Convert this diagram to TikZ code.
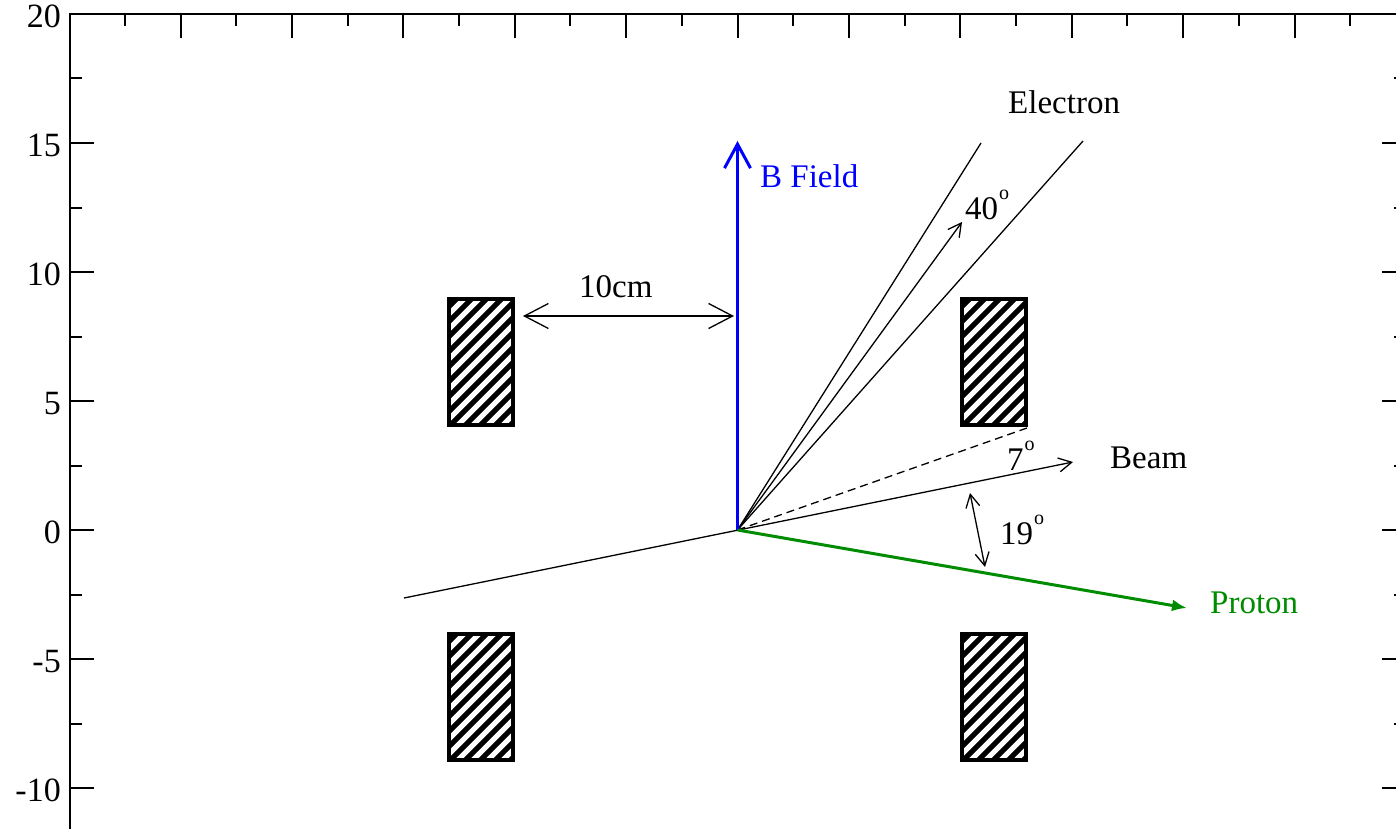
\documentclass[tikz,border=0pt]{standalone}
\usepackage{fontspec}
\setmainfont{Liberation Serif}
\usetikzlibrary{arrows.meta}
\definecolor{bblue}{RGB}{0,0,255}
\definecolor{pgreen}{RGB}{0,140,0}
\newcommand\degsup{\kern1pt\raisebox{20pt}{\fontsize{20}{20}\selectfont o}}
\begin{document}
\begin{tikzpicture}[x=1pt,y=-1pt,
  lbl/.style={font=\fontsize{33}{38}\selectfont, inner sep=0pt, anchor=base west},
  axlbl/.style={font=\fontsize{34}{38}\selectfont, inner sep=0pt, anchor=base east},
  axisframe/.style={line width=2pt, line cap=rect},
  thinray/.style={line width=1.3pt},
  smallhead/.style={-{Straight Barb[length=13pt,width=14pt]}},
  bothsmall/.style={{Straight Barb[length=13pt,width=14pt]}-{Straight Barb[length=13pt,width=14pt]}},
  bothbig/.style={{Straight Barb[length=24pt,width=25pt]}-{Straight Barb[length=24pt,width=25pt]}},
  magnet/.style={draw=black, fill=black, line width=4pt, minimum width=64pt,
    minimum height=126pt, inner sep=0pt,
    path picture={\foreach \k in {1,...,14}{\draw[white,line width=5pt]
      ([yshift=-\k*15pt]path picture bounding box.north west) -- ++(110,-110);}}}
]
\useasboundingbox (0,0) rectangle (1396,829);
% frame and ticks
\draw[axisframe] (70,845) -- (70,14) -- (1406,14) -- (1406,845);
\foreach \i in {1,...,23}{
  \pgfmathsetmacro\tl{ifthenelse(mod(\i,2)==0,24,12)}
  \draw[axisframe, line cap=butt] ({69.1+\i*55.7},14) -- ++(0,\tl);
}
\foreach \j in {1,...,13}{
  \pgfmathsetmacro\tl{ifthenelse(mod(\j,2)==0,24,12)}
  \draw[axisframe, line cap=butt] (70,{14+\j*64.5}) -- ++(\tl,0);
  \draw[axisframe, line cap=butt] (1406,{14+\j*64.5}) -- ++(-\tl,0);
}
\foreach \v/\yy [count=\n] in {20/14,15/143,10/272,5/401,0/530,-5/659,-10/788}
  \node[axlbl] (yl\n) at (61,\yy+13.5) {\v};
% magnets
\node[magnet] (m1) at (481,362) {};
\node[magnet] (m2) at (994,362) {};
\node[magnet] (m3) at (481,697) {};
\node[magnet] (m4) at (994,697) {};
% coordinates
\coordinate (O) at (737.5,530);
\coordinate (Bt) at (737.5,141);
\coordinate (e1) at (981,143);
\coordinate (e2) at (1083,141);
\coordinate (e40) at (962,222);
\coordinate (bs) at (404,598);
\coordinate (be) at (1073,462);
\coordinate (dsh) at (1027,428);
\coordinate (pend) at (1187,608);
\coordinate (a19t) at (970,493);
\coordinate (a19b) at (985,567);
\coordinate (cmL) at (523,316);
\coordinate (cmR) at (734,316);
% rays
\draw[thinray] (O) -- (e1);
\draw[thinray] (O) -- (e2);
\draw[thinray, smallhead] (O) -- (e40);
\draw[thinray, dash pattern=on 8pt off 5pt] (O) -- (dsh);
\draw[thinray, smallhead] (bs) -- (be);
\draw[thinray, bothsmall] (a19t) -- (a19b);
\draw[thinray, bothbig] (cmL) -- (cmR);
\draw[line width=3pt, bblue, -{Straight Barb[length=24pt,width=26pt]}] (O) -- (Bt);
\draw[line width=3pt, pgreen, -{Latex[length=15pt,width=12pt]}] (O) -- (pend);
% labels
\node[lbl, text=bblue] (lB) at (760,188) {B Field};
\node[lbl] (l10) at (579,297) {10cm};
\node[lbl] (lE) at (1008,114) {Electron};
\node[lbl] (l40) at (965,219) {40\degsup};
\node[lbl] (l7) at (1007,470) {7\degsup};
\node[lbl] (lBeam) at (1110,468) {Beam};
\node[lbl] (l19) at (1000,544) {19\degsup};
\node[lbl, text=pgreen] (lP) at (1210,613) {Proton};
\end{tikzpicture}
\end{document}
